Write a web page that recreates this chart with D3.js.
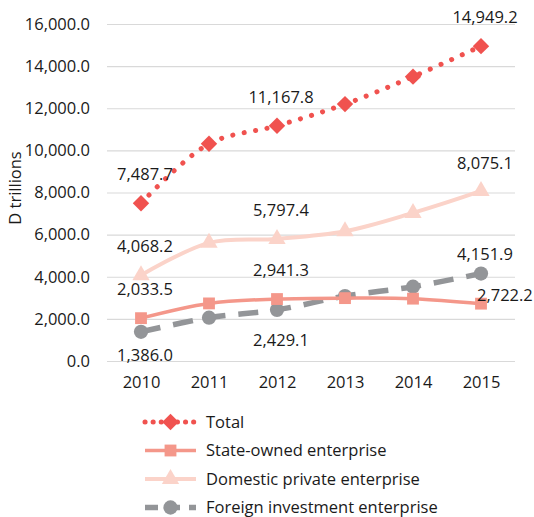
<!DOCTYPE html>
<html>
<head>
<meta charset="utf-8">
<script src="https://cdn.jsdelivr.net/npm/d3@7"></script>
<style>
  body { margin: 0; background: #fff; }
  text { font-family: "Open Sans", sans-serif; fill: #1a1a1a; }
</style>
</head>
<body>
<div id="chart"></div>
<script>
const years = ["2010", "2011", "2012", "2013", "2014", "2015"];
const total = [7487.7, 10314, 11167.8, 12196, 13500, 14949.2];
const stateOwned = [2033.5, 2734, 2941.3, 2985, 2960, 2722.2];
const domesticPrivate = [4068.2, 5610, 5797.4, 6160, 7031, 8075.1];
const foreignInvest = [1386.0, 2056, 2429.1, 3080, 3525, 4151.9];
const yTicks = [0, 2000, 4000, 6000, 8000, 10000, 12000, 14000, 16000];

const FS = "16.5px";

// which points carry a label, and where (dy relative to point)
const series = [
    { name: "Total", values: total, color: "#F0524F", dash: "0.1 11.5", width: 5, shape: d3.symbolSquare, size: 135, rot: 45,
      labels: [[0, -29], [2, -29], [5, -29]] },
    { name: "State-owned enterprise", values: stateOwned, color: "#F4978A", dash: null, width: 3.5, shape: d3.symbolSquare, size: 140,
      labels: [[0, -29], [2, -29], [5, -8, "start", -4]] },
    { name: "Domestic private enterprise", values: domesticPrivate, color: "#FBD3C9", dash: null, width: 4, shape: d3.symbolTriangle, size: 130,
      labels: [[0, -29], [2, -29], [5, -28]] },
    { name: "Foreign investment enterprise", values: foreignInvest, color: "#939598", dash: "20 13", width: 5.5, shape: d3.symbolCircle, size: 160,
      labels: [[0, 23], [2, 30], [5, -19]] }
];

const margin = { top: 24, right: 19, bottom: 156, left: 107 };
const W = 534, H = 517;
const width = W - margin.left - margin.right;
const height = H - margin.top - margin.bottom;

const svg = d3.select("#chart").append("svg")
    .attr("width", W).attr("height", H);
const g = svg.append("g")
    .attr("transform", `translate(${margin.left},${margin.top})`);

const x = d3.scalePoint().domain(years).range([0, width]).padding(0.5);
const y = d3.scaleLinear().domain([0, 16000]).range([height, 0]);

// gridlines + y axis
const yAxis = d3.axisLeft(y).tickValues(yTicks).tickSize(-width).tickFormat(d3.format(",.1f"));
g.append("g").call(yAxis)
    .call(s => s.select(".domain").remove())
    .call(s => s.selectAll("line").attr("stroke", "#d9d9d9").attr("stroke-width", 1.2))
    .call(s => s.selectAll("text").attr("x", -17).style("font-size", FS).attr("fill", "#1a1a1a"));

const xAxis = d3.axisBottom(x).tickSize(0);
g.append("g").attr("transform", `translate(0,${height})`).call(xAxis)
    .call(s => s.select(".domain").remove())
    .call(s => s.selectAll("text").attr("dy", "1.45em").style("font-size", FS).attr("fill", "#1a1a1a"));

svg.append("text")
    .attr("transform", `translate(21,${margin.top + 164}) rotate(-90)`)
    .attr("text-anchor", "middle")
    .style("font-size", FS)
    .text("D trillions");

const line = d3.line()
    .x((d, i) => x(years[i]))
    .y(d => y(d))
    .curve(d3.curveCatmullRom.alpha(0.5));

// draw back to front so Total sits on top
[...series].reverse().forEach(s => {
    g.append("path")
        .datum(s.values)
        .attr("fill", "none")
        .attr("stroke", s.color)
        .attr("stroke-width", s.width)
        .attr("stroke-linecap", s.dash && s.dash.startsWith("0.1") ? "round" : "butt")
        .attr("stroke-dasharray", s.dash)
        .attr("d", line);
    g.selectAll(null)
        .data(s.values)
        .enter().append("path")
        .attr("transform", (d, i) => `translate(${x(years[i])},${y(d)}) rotate(${s.rot || 0})`)
        .attr("d", d3.symbol().type(s.shape).size(s.size))
        .attr("fill", s.color);
});

const fmt = d3.format(",.1f");
series.forEach(s => {
    s.labels.forEach(([i, dy, anchor, dx]) => {
        g.append("text")
            .attr("x", x(years[i]) + (dx || 4))
            .attr("y", y(s.values[i]) + dy)
            .attr("dy", "0.35em")
            .attr("text-anchor", anchor || "middle")
            .style("font-size", FS)
            .text(fmt(s.values[i]));
    });
});

// legend
const legend = svg.append("g").attr("transform", "translate(145,422)");
series.forEach((s, i) => {
    const row = legend.append("g").attr("transform", `translate(0,${i * 28.5})`);
    row.append("line")
        .attr("x1", 0).attr("x2", 51)
        .attr("stroke", s.color)
        .attr("stroke-width", s.width)
        .attr("stroke-linecap", s.dash && s.dash.startsWith("0.1") ? "round" : "butt")
        .attr("stroke-dasharray", s.dash ? (s.dash.startsWith("0.1") ? "0.1 8" : "13 9") : null);
    row.append("path")
        .attr("transform", `translate(25.5,0) rotate(${s.rot || 0})`)
        .attr("d", d3.symbol().type(s.shape).size(s.size))
        .attr("fill", s.color);
    row.append("text")
        .attr("x", 61).attr("dy", "0.35em")
        .style("font-size", FS)
        .text(s.name);
});
</script>
</body>
</html>
